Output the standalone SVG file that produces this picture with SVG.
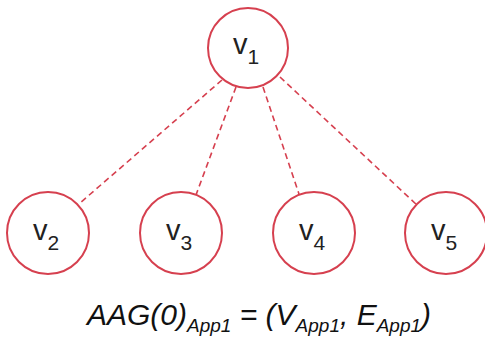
<svg xmlns="http://www.w3.org/2000/svg" width="485" height="347" viewBox="0 0 485 347">
<style>
.n{fill:#fff;stroke:#d6404f;stroke-width:2}
.e{stroke:#d6404f;stroke-width:1.6;stroke-dasharray:6 4;fill:none}
.t{font-family:"Liberation Sans",Arial,sans-serif;font-size:29px;fill:#222}
.s{font-size:21px}
.f{font-family:"Liberation Sans",Arial,sans-serif;font-size:30px;font-style:italic;fill:#111}
.fs{font-size:19px}
</style>
<rect width="485" height="347" fill="#fff"/>
<g id="connectors">
<line class="e" x1="222" y1="80" x2="80" y2="203"/>
<line class="e" x1="236" y1="87" x2="196" y2="195"/>
<line class="e" x1="263" y1="87" x2="299" y2="194"/>
<line class="e" x1="280" y1="77" x2="418" y2="206"/>
</g>
<g id="v1"><circle class="n" cx="248" cy="48" r="40"/><text class="t" x="233" y="54">v<tspan class="s" dy="10">1</tspan></text></g>
<g id="v2"><circle class="n" cx="48" cy="233" r="41"/><text class="t" x="33" y="240">v<tspan class="s" dy="10">2</tspan></text></g>
<g id="v3"><circle class="n" cx="181" cy="233" r="41"/><text class="t" x="166" y="240">v<tspan class="s" dy="10">3</tspan></text></g>
<g id="v4"><circle class="n" cx="314" cy="233" r="41"/><text class="t" x="299" y="240">v<tspan class="s" dy="10">4</tspan></text></g>
<g id="v5"><circle class="n" cx="446" cy="233" r="41"/><text class="t" x="431" y="240">v<tspan class="s" dy="10">5</tspan></text></g>
<g id="caption"><text class="f" x="87" y="325">AAG(0)<tspan class="fs" dy="7">App1</tspan><tspan dy="-7"> = (V</tspan><tspan class="fs" dy="7">App1</tspan><tspan dy="-7">, E</tspan><tspan class="fs" dy="7">App1</tspan><tspan dy="-7">)</tspan></text></g>
</svg>
